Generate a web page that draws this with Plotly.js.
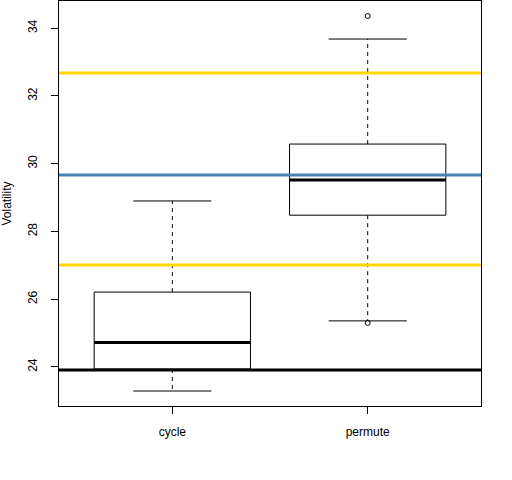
<!DOCTYPE html>
<html>
<head>
<meta charset="utf-8">
<script src="https://cdn.plot.ly/plotly-3.0.1.min.js"></script>
<style>html,body{margin:0;padding:0;background:#fff;}#chart{width:512px;height:480px;}</style>
</head>
<body>
<div id="chart"></div>
<script>
// ---- data ----
var categories = ['cycle', 'permute'];
var lowerWhisker = [23.29, 25.36];
var q1 = [23.94, 28.48];
var median = [24.72, 29.52];
var q3 = [26.21, 30.58];
var upperWhisker = [28.90, 33.68];
var outliers = [[], [25.30, 34.36]];
var refValues = [32.68, 29.67, 27.01, 23.91];
var refColors = ['#FFD700', '#4682B4', '#FFD700', '#000000'];
var yTicks = [24, 26, 28, 30, 32, 34];

// ---- build traces ----
var traces = [];
var boxHalf = 0.4, capHalf = 0.2;
categories.forEach(function (c, k) {
  var x = k + 1;
  // whiskers (dashed)
  traces.push({type: 'scatter', mode: 'lines', hoverinfo: 'skip', showlegend: false,
    x: [x, x, null, x, x], y: [q3[k], upperWhisker[k], null, q1[k], lowerWhisker[k]],
    line: {color: '#000', width: 1, dash: '4px,4px'}});
  // caps
  traces.push({type: 'scatter', mode: 'lines', hoverinfo: 'skip', showlegend: false,
    x: [x - capHalf, x + capHalf, null, x - capHalf, x + capHalf],
    y: [upperWhisker[k], upperWhisker[k], null, lowerWhisker[k], lowerWhisker[k]],
    line: {color: '#000', width: 1}});
  // box
  traces.push({type: 'scatter', mode: 'lines', hoverinfo: 'skip', showlegend: false,
    x: [x - boxHalf, x + boxHalf, x + boxHalf, x - boxHalf, x - boxHalf],
    y: [q1[k], q1[k], q3[k], q3[k], q1[k]],
    fill: 'toself', fillcolor: '#fff',
    line: {color: '#000', width: 1}});
  // median
  traces.push({type: 'scatter', mode: 'lines', hoverinfo: 'skip', showlegend: false,
    x: [x - boxHalf, x + boxHalf], y: [median[k], median[k]],
    line: {color: '#000', width: 3}});
  // outliers
  if (outliers[k].length) {
    traces.push({type: 'scatter', mode: 'markers', hoverinfo: 'skip', showlegend: false,
      x: outliers[k].map(function () { return x; }), y: outliers[k],
      marker: {symbol: 'circle-open', size: 5, color: '#000', line: {width: 1, color: '#000'}}});
  }
});

var shapes = refValues.map(function (v, i) {
  return {type: 'line', xref: 'paper', yref: 'y', x0: 0, x1: 1, y0: v, y1: v,
    line: {color: refColors[i], width: 3}, layer: 'above'};
});

// axis ranges like R (4% extension)
var all = lowerWhisker.concat(upperWhisker);
outliers.forEach(function (o) { all = all.concat(o); });
var ymin = Math.min.apply(null, all), ymax = Math.max.apply(null, all);
var ext = (ymax - ymin) * 0.04;
var xext = categories.length * 0.04;

var layout = {
  width: 512, height: 480,
  margin: {l: 59, r: 31, t: 1, b: 74, pad: 0},
  paper_bgcolor: '#fff', plot_bgcolor: '#fff',
  font: {family: 'Liberation Sans, Arial, sans-serif', size: 12, color: '#000'},
  showlegend: false,
  shapes: shapes,
  xaxis: {
    range: [0.5 - xext, categories.length + 0.5 + xext],
    tickmode: 'array', tickvals: categories.map(function (c, i) { return i + 1; }), ticktext: categories,
    ticks: 'outside', ticklen: 7, tickwidth: 1, tickcolor: '#000',
    showgrid: false, zeroline: false,
    showline: true, linecolor: '#000', linewidth: 1, mirror: true,
    ticklabelstandoff: 8,
    tickfont: {size: 12, color: '#000'}
  },
  yaxis: {
    range: [ymin - ext, ymax + ext],
    tickmode: 'array', tickvals: yTicks, ticktext: yTicks.map(String),
    tickangle: -90,
    ticks: 'outside', ticklen: 7, tickwidth: 1, tickcolor: '#000',
    showgrid: false, zeroline: false,
    showline: true, linecolor: '#000', linewidth: 1, mirror: true,
    ticklabelstandoff: 9,
    tickfont: {size: 12, color: '#000'},
    title: {text: 'Volatility', standoff: 16, font: {size: 12, color: '#000'}}
  }
};

Plotly.newPlot('chart', traces, layout, {staticPlot: true, displayModeBar: false});
</script>
</body>
</html>
